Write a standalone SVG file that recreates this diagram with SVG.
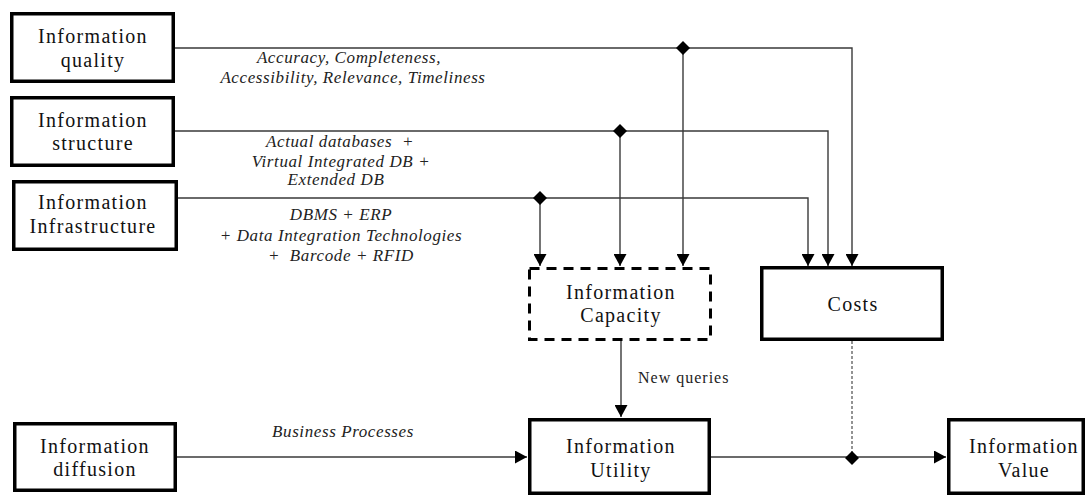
<svg xmlns="http://www.w3.org/2000/svg" width="1089" height="496" viewBox="0 0 1089 496">
<defs>
<style>
.box{fill:#fff;stroke:#000;stroke-width:3.5}
.dash{fill:#fff;stroke:#000;stroke-width:3;stroke-dasharray:10 7}
.lbl{font-family:"Liberation Serif","Times New Roman",serif;font-size:20px;letter-spacing:1.3px;text-anchor:middle;fill:#111}
.it{font-family:"Liberation Serif","Times New Roman",serif;font-style:italic;font-size:17px;letter-spacing:0.6px;text-anchor:middle;fill:#222;white-space:pre}
.nq{font-family:"Liberation Serif","Times New Roman",serif;font-size:16px;letter-spacing:1px;fill:#222}
.ln{fill:none;stroke:#3a3a3a;stroke-width:1.4}
.dot{fill:none;stroke:#666;stroke-width:1.4;stroke-dasharray:3 2}
.dia{fill:#000}
</style>
<marker id="arr" markerUnits="userSpaceOnUse" markerWidth="13" markerHeight="13" refX="12" refY="6.5" orient="auto">
<path d="M0,0 L12,6.5 L0,13 z" fill="#000"/>
</marker>
</defs>
<rect width="1089" height="496" fill="#fff"/>

<g id="connectors">
<path class="ln" d="M175,48 H852 V266" marker-end="url(#arr)"/>
<path class="ln" d="M683,48 V266" marker-end="url(#arr)"/>
<path class="ln" d="M175,131 H828 V266" marker-end="url(#arr)"/>
<path class="ln" d="M620,131 V266" marker-end="url(#arr)"/>
<path class="ln" d="M178,198 H808 V266" marker-end="url(#arr)"/>
<path class="ln" d="M540,198 V266" marker-end="url(#arr)"/>
<path class="ln" d="M177,457 H527" marker-end="url(#arr)"/>
<path class="ln" d="M621,341 V417" marker-end="url(#arr)"/>
<path class="ln" d="M711,457 H946" marker-end="url(#arr)"/>
<path class="dot" d="M852,341 V452"/>
<polygon class="dia" points="683,41 690,48 683,55 676,48"/>
<polygon class="dia" points="620,124 627,131 620,138 613,131"/>
<polygon class="dia" points="540,191 547,198 540,205 533,198"/>
<polygon class="dia" points="852,451 859,458 852,465 845,458"/>
<text class="it" x="349" y="63">Accuracy, Completeness,</text>
<text class="it" x="353" y="83">Accessibility, Relevance, Timeliness</text>
<text class="it" x="340" y="147" xml:space="preserve">Actual databases  +</text>
<text class="it" x="341" y="167">Virtual Integrated DB +</text>
<text class="it" x="336" y="185">Extended DB</text>
<text class="it" x="341" y="220">DBMS + ERP</text>
<text class="it" x="341" y="241">+ Data Integration Technologies</text>
<text class="it" x="341" y="261" xml:space="preserve">+  Barcode + RFID</text>
<text class="it" x="343" y="437">Business Processes</text>
<text class="nq" x="638" y="383">New queries</text>
</g>

<g id="quality">
<rect class="box" x="11.75" y="13.75" width="161.5" height="67.5"/>
<text class="lbl" x="93" y="43">Information</text>
<text class="lbl" x="93" y="67">quality</text>
</g>
<g id="structure">
<rect class="box" x="11.75" y="97.75" width="161.5" height="67.5"/>
<text class="lbl" x="93" y="127">Information</text>
<text class="lbl" x="93" y="150">structure</text>
</g>
<g id="infrastructure">
<rect class="box" x="13.75" y="181.75" width="162.5" height="67.5"/>
<text class="lbl" x="93" y="209">Information</text>
<text class="lbl" x="93" y="233">Infrastructure</text>
</g>
<g id="diffusion">
<rect class="box" x="14.75" y="423.75" width="160.5" height="66.5"/>
<text class="lbl" x="95" y="453">Information</text>
<text class="lbl" x="95" y="476">diffusion</text>
</g>
<g id="capacity">
<rect class="dash" x="529.5" y="268.5" width="181" height="71"/>
<text class="lbl" x="621" y="299">Information</text>
<text class="lbl" x="621" y="322">Capacity</text>
</g>
<g id="costs">
<rect class="box" x="761.75" y="267.75" width="180.5" height="71.5"/>
<text class="lbl" x="853" y="311">Costs</text>
</g>
<g id="utility">
<rect class="box" x="529.75" y="419.75" width="179.5" height="73.5"/>
<text class="lbl" x="621" y="453">Information</text>
<text class="lbl" x="621" y="477">Utility</text>
</g>
<g id="value">
<rect class="box" x="948.75" y="419.75" width="134.5" height="73.5"/>
<text class="lbl" x="1024" y="453">Information</text>
<text class="lbl" x="1024" y="477">Value</text>
</g>
</svg>
